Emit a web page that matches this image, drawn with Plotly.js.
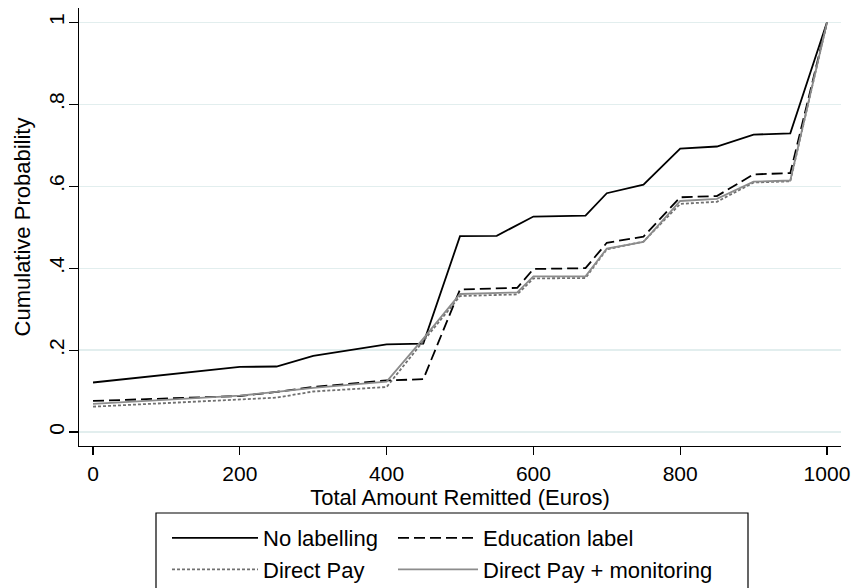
<!DOCTYPE html>
<html>
<head>
<meta charset="utf-8">
<script src="https://cdn.plot.ly/plotly-3.0.1.min.js"></script>
<style>html,body{margin:0;padding:0;background:#fff;}#chart{width:852px;height:588px;}</style>
</head>
<body>
<div id="chart"></div>
<script>
// Amounts (Euros) at which the cumulative distributions are evaluated
const noLabelX = [0, 200, 250, 300, 400, 450, 500, 550, 600, 671, 700, 750, 800, 850, 900, 950, 1000];
const otherX   = [0, 200, 250, 300, 400, 450, 500, 578, 600, 671, 700, 750, 800, 850, 900, 950, 1000];

const noLabelling   = [0.121, 0.159, 0.160, 0.186, 0.214, 0.216, 0.478, 0.479, 0.526, 0.528, 0.583, 0.604, 0.692, 0.697, 0.726, 0.729, 1];
const educationLbl  = [0.076, 0.088, 0.098, 0.110, 0.126, 0.129, 0.348, 0.352, 0.398, 0.400, 0.462, 0.477, 0.573, 0.576, 0.629, 0.632, 1];
const directPay     = [0.062, 0.080, 0.084, 0.099, 0.110, 0.222, 0.332, 0.336, 0.375, 0.376, 0.446, 0.465, 0.557, 0.562, 0.609, 0.612, 1];
const directPayMon  = [0.069, 0.089, 0.098, 0.108, 0.123, 0.228, 0.337, 0.341, 0.380, 0.380, 0.448, 0.464, 0.564, 0.569, 0.611, 0.614, 1];

const seriesNames = ["No labelling", "Education label", "Direct Pay", "Direct Pay + monitoring"];
const yTickVals = [0, 0.2, 0.4, 0.6, 0.8, 1];
const yTickText = ["0", ".2", ".4", ".6", ".8", "1"];
const xTickVals = [0, 200, 400, 600, 800, 1000];
const xTickText = ["0", "200", "400", "600", "800", "1000"];

const FONT = "Liberation Sans, Arial, Helvetica, sans-serif";

// plot area in pixels (for converting legend positions to paper fractions)
const PL = 79, PR = 841, PT = 8, PB = 446;
const pxX = v => (v - PL) / (PR - PL);
const pxY = v => (PB - v) / (PB - PT);

const traces = [
  {x: noLabelX, y: noLabelling, name: seriesNames[0], mode: "lines",
   line: {color: "#000000", width: 1.8, dash: "solid"}, legend: "legend"},
  {x: otherX, y: educationLbl, name: seriesNames[1], mode: "lines",
   line: {color: "#000000", width: 1.8, dash: "11px,5px"}, legend: "legend2"},
  {x: otherX, y: directPay, name: seriesNames[2], mode: "lines",
   line: {color: "#707070", width: 1.8, dash: "3px,2px"}, legend: "legend"},
  {x: otherX, y: directPayMon, name: seriesNames[3], mode: "lines",
   line: {color: "#8c8c8c", width: 1.8, dash: "solid"}, legend: "legend2"}
];

const legendCommon = {
  orientation: "v", xref: "paper", yref: "paper",
  xanchor: "left", yanchor: "top",
  font: {family: FONT, size: 22, color: "#000"},
  bgcolor: "rgba(0,0,0,0)", borderwidth: 0,
  traceorder: "normal"
};

const layout = {
  width: 852, height: 588,
  paper_bgcolor: "#ffffff", plot_bgcolor: "#ffffff",
  margin: {l: PL, r: 852 - PR, t: PT, b: 588 - PB, pad: 0, autoexpand: false},
  font: {family: FONT, size: 21, color: "#000"},
  showlegend: true,
  legend: Object.assign({}, legendCommon, {x: pxX(167), y: pxY(517), itemwidth: 86}),
  legend2: Object.assign({}, legendCommon, {x: pxX(393), y: pxY(517), itemwidth: 80}),
  xaxis: {
    range: [-19.1, 1019.1], tickvals: xTickVals, ticktext: xTickText,
    ticks: "outside", ticklen: 8, tickwidth: 1.2, tickcolor: "#000",
    showline: true, linecolor: "#000", linewidth: 1.3, mirror: false,
    showgrid: false, zeroline: false, automargin: false,
    tickfont: {family: FONT, size: 21, color: "#000"},
    title: {text: "Total Amount Remitted (Euros)", font: {family: FONT, size: 22, color: "#000"}, standoff: 1}
  },
  yaxis: {
    range: [-0.034, 1.035], tickvals: yTickVals, ticktext: yTickText,
    ticks: "outside", ticklen: 9, tickwidth: 1.2, tickcolor: "#000",
    tickangle: -90, automargin: false, ticklabelstandoff: -4,
    showline: true, linecolor: "#000", linewidth: 1.3, mirror: false,
    showgrid: true, gridcolor: "#e2eeee", gridwidth: 1.3, zeroline: false,
    tickfont: {family: FONT, size: 21, color: "#000"},
    title: {text: "Cumulative Probability", font: {family: FONT, size: 22, color: "#000"}, standoff: 8}
  },
  shapes: [{
    type: "rect", xref: "paper", yref: "paper",
    x0: pxX(156), x1: pxX(748),
    y0: pxY(513), y1: pxY(600),
    line: {color: "#000", width: 1.2}, fillcolor: "rgba(0,0,0,0)", layer: "above"
  }]
};

Plotly.newPlot("chart", traces, layout, {displayModeBar: false, staticPlot: true});
</script>
</body>
</html>
